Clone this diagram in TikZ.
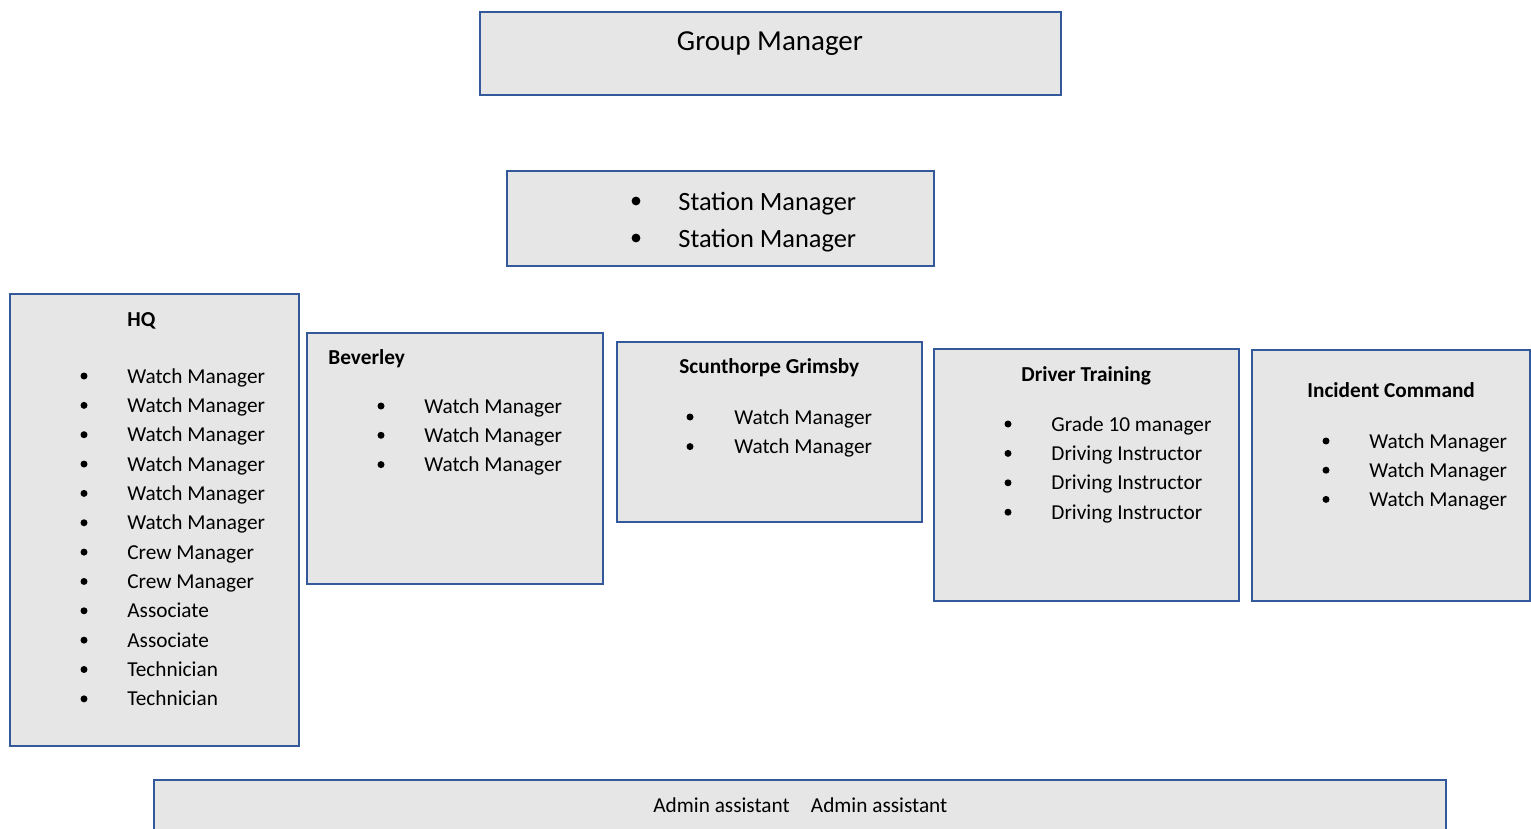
\documentclass[tikz,border=0pt]{standalone}
\usepackage{fontspec}
\setmainfont{Carlito}
\usepackage{xcolor}
\usepackage{tikz}
\definecolor{unitblue}{HTML}{34599B}
\definecolor{unitgray}{HTML}{E7E6E6}

\begin{document}
\begin{tikzpicture}[x=0.5pt, y=-0.5pt,
        unit/.style={draw=unitblue, fill=unitgray, line width=1.3pt},
        txt/.style={anchor=base west, inner sep=0pt, font=\fontsize{10.64}{13}\selectfont},
        head/.style={txt, font=\fontsize{10.64}{13}\selectfont\bfseries},
        dot/.style={circle, fill, inner sep=0pt, minimum size=3.5pt}]
                \useasboundingbox (0,0) rectangle (1531,829);
                \clip (0,0) rectangle (1531,829);
                % group and station managers
                \draw[unit] (480,12) rectangle (1061,95);
                \node[txt, anchor=base, font=\fontsize{14.5}{17}\selectfont] (gm) at (770,51) {Group Manager};
                \draw[unit] (507,171) rectangle (934,266);
                \foreach \y [count=\i] in {210,247} {
                    \node[txt, font=\fontsize{13.2}{16}\selectfont] (sm\i) at (678,\y) {Station Manager};
                    \node[dot, minimum size=4.4pt] (smdot\i) at (636,\y-9) {};
                }
                % HQ
                \draw[unit] (10,294) rectangle (299,746);
                \node[head] (hq) at (127,326) {HQ};
                \foreach \t [count=\i] in {Watch Manager,Watch Manager,Watch Manager,Watch Manager,Watch Manager,Watch Manager,Crew Manager,Crew Manager,Associate,Associate,Technician,Technician} {
                    \node[txt] (hq\i) at (127,{383+29.35*(\i-1)}) {\t};
                    \node[dot] (hqdot\i) at (84,{376+29.35*(\i-1)}) {};
                }
                % Beverley
                \draw[unit] (307,333) rectangle (603,584);
                \node[head] (bev) at (328,364) {Beverley};
                \foreach \i in {1,2,3} {
                    \node[txt] (bev\i) at (424,{413+29.3*(\i-1)}) {Watch Manager};
                    \node[dot] (bevdot\i) at (381,{406+29.3*(\i-1)}) {};
                }
                % Scunthorpe Grimsby
                \draw[unit] (617,342) rectangle (922,522);
                \node[head] (scg) at (679,373) {Scunthorpe Grimsby};
                \foreach \i in {1,2} {
                    \node[txt] (scg\i) at (734,{424+29.6*(\i-1)}) {Watch Manager};
                    \node[dot] (scgdot\i) at (690,{417+29.6*(\i-1)}) {};
                }
                % Driver Training
                \draw[unit] (934,349) rectangle (1239,601);
                \node[head] (drv) at (1021,381) {Driver Training};
                \foreach \t [count=\i] in {Grade 10 manager,Driving Instructor,Driving Instructor,Driving Instructor} {
                    \node[txt] (drv\i) at (1051,{431+29.4*(\i-1)}) {\t};
                    \node[dot] (drvdot\i) at (1008,{424+29.4*(\i-1)}) {};
                }
                % Incident Command
                \draw[unit] (1252,350) rectangle (1530,601);
                \node[head] (inc) at (1307,397) {Incident Command};
                \foreach \i in {1,2,3} {
                    \node[txt] (inc\i) at (1369,{448+29.2*(\i-1)}) {Watch Manager};
                    \node[dot] (incdot\i) at (1326,{441+29.2*(\i-1)}) {};
                }
                % admin
                \draw[unit] (154,780) rectangle (1446,860);
                \node[txt] (adm) at (653,812) {Admin assistant\quad Admin assistant};
            \end{tikzpicture}
\end{document}
